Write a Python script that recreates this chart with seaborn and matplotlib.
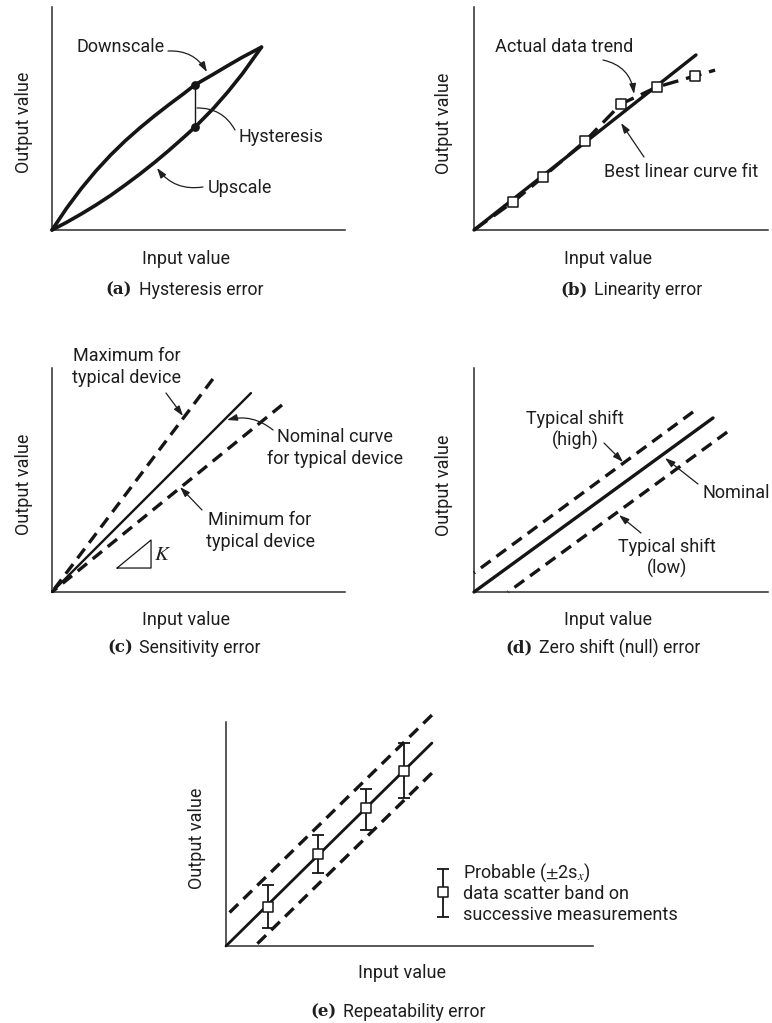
import numpy as np
import pandas as pd
import matplotlib
matplotlib.use("Agg")
import matplotlib.pyplot as plt
from matplotlib.patches import FancyArrowPatch
import seaborn as sns

# ---------------------------------------------------------------- data
# (a) hysteresis loop (upscale / downscale branches)
hyst_x = [0, 0.5, 1.0, 1.5, 2.0, 2.5, 3.0, 3.5, 4.0, 4.5, 4.87, 5.5, 6.0, 6.5, 7.15]
down_y = [0, 0.98, 1.86, 2.65, 3.36, 4.0, 4.58, 5.12, 5.63, 6.12, 6.50, 6.98, 7.37, 7.75, 8.2]
up_y = [0, 0.345, 0.72, 1.12, 1.55, 2.02, 2.51, 3.03, 3.58, 4.16, 4.60, 5.44, 6.19, 7.01, 8.2]
hyst_at = 10  # index where the hysteresis gap is marked

# (b) linearity: measured points and best straight-line fit
lin_x = [1.33, 2.35, 3.78, 5.00, 6.22, 7.52]
lin_y = [1.26, 2.38, 3.99, 5.65, 6.41, 6.91]
trend_x = [0] + lin_x + [8.20]
trend_y = [0] + lin_y + [7.17]
fit_x = [0, 7.55]
fit_y = [0, 7.85]

# (c) sensitivity: end points of lines through the origin
sens_max = ([0, 5.49], [0, 9.51])
sens_nom = ([0, 6.79], [0, 8.88])
sens_min = ([0, 7.85], [0, 8.35])
slope_tri_x = [2.22, 3.38, 3.38, 2.22]
slope_tri_y = [1.07, 1.07, 2.32, 1.07]

# (d) zero shift
zero_nom = ([0, 8.13], [0, 7.77])
zero_high = ([0, 7.45], [0.85, 8.04])
zero_low = ([1.16, 8.61], [0, 7.14])

# (e) repeatability
rep_nom = ([0, 5.61], [0, 9.06])
rep_high = ([0, 5.61], [1.34, 10.31])
rep_low = ([0.79, 5.61], [0, 7.72])
rep_x = [1.14, 2.51, 3.81, 4.85]
rep_y = [1.74, 4.11, 6.16, 7.81]
rep_lo = [0.80, 3.26, 5.18, 6.61]
rep_hi = [2.72, 4.96, 7.01, 9.06]
key_x = [5.91]
key_y = [2.41]
key_lo = [1.29]
key_hi = [3.44]

# ---------------------------------------------------------------- style
sns.set_theme(style="white")
plt.rcParams["font.family"] = ["Roboto", "DejaVu Sans"]
plt.rcParams["mathtext.fontset"] = "stix"

W, H = 772, 1023
fig = plt.figure(figsize=(W / 100, H / 100), dpi=100)
fig.patch.set_facecolor("white")

INK = "#151515"
TXT = "#1e1e1e"
FS = 13
CAP_FS = 12.7
DASH = (3.6, 2.2)


def make_axes(l, r, t, b):
    ax = fig.add_axes([l / W, 1 - b / H, (r - l) / W, (b - t) / H])
    ax.set_xlim(0, 10)
    ax.set_ylim(0, 10)
    for s in ("top", "right"):
        ax.spines[s].set_visible(False)
    for s in ("left", "bottom"):
        ax.spines[s].set_linewidth(1.1)
        ax.spines[s].set_color("#2a2a2a")
    ax.set_xticks([])
    ax.set_yticks([])
    ax.set_xlabel("")
    ax.set_ylabel("")
    ax.patch.set_alpha(0)
    return ax


def line(ax, xs, ys, lw=2.3, dashes=None, z=3):
    xs, ys = list(xs), list(ys)
    kw = dict(color=INK, lw=lw, sort=False, estimator=None, ax=ax,
              clip_on=False, zorder=z)
    if dashes is not None:
        # start the dash pattern at the far end so it finishes on a full dash
        xs, ys = xs[::-1], ys[::-1]
        kw["linestyle"] = (0, dashes)
    sns.lineplot(x=xs, y=ys, **kw)


def ftext(x, y, s, ha="left", va="center", size=FS, **kw):
    fig.text(x / W, 1 - y / H, s, ha=ha, va=va, fontsize=size, color=TXT, **kw)


def arrow(x0, y0, x1, y1, rad=0.0, head=True):
    style = "-|>,head_length=0.55,head_width=0.18" if head else "-"
    p = FancyArrowPatch((x0 / W, 1 - y0 / H), (x1 / W, 1 - y1 / H),
                        transform=fig.transFigure, arrowstyle=style,
                        connectionstyle=f"arc3,rad={rad}", lw=0.9,
                        color=TXT, mutation_scale=11, shrinkA=0, shrinkB=0)
    fig.add_artist(p)


def axis_labels(xc, yx, yc, yy):
    ftext(xc, yx, "Input value", ha="center")
    ftext(yy, yc, "Output value", ha="center", rotation=90)


def caption(x_right, x_text, y, tag, text):
    fig.text(x_right / W, 1 - y / H, tag, ha="right", va="center",
             fontsize=CAP_FS - 0.7, fontweight="bold", family="DejaVu Serif",
             color=TXT)
    ftext(x_text, y, text, size=CAP_FS)


# ---------------------------------------------------------------- (a)
ax = make_axes(52, 345, 7, 230)
line(ax, hyst_x, down_y, lw=2.6)
line(ax, hyst_x, up_y, lw=2.6)
gap_x = [hyst_x[hyst_at], hyst_x[hyst_at]]
gap_y = [up_y[hyst_at], down_y[hyst_at]]
line(ax, gap_x, gap_y, lw=1.0)
sns.scatterplot(x=gap_x, y=gap_y, ax=ax, color=INK, s=40, linewidth=0, zorder=5)
ftext(76, 47, "Downscale")
arrow(168, 51, 207, 72, rad=-0.3)
ftext(238, 137, "Hysteresis")
arrow(235, 130, 197, 108, rad=0.3, head=False)
ftext(208, 188, "Upscale")
arrow(203, 187, 157, 168, rad=-0.3)
axis_labels(186, 259, 122, 24)
caption(132, 139, 290, "(a)", "Hysteresis error")

# ---------------------------------------------------------------- (b)
ax = make_axes(474, 768, 7, 230)
line(ax, fit_x, fit_y, lw=2.4)
sns.lineplot(x=trend_x, y=trend_y, ax=ax, color=INK, lw=2.4, sort=False,
             estimator=None, clip_on=False, zorder=3, linestyle=(0, (4.8, 2.4)))
sns.scatterplot(x=lin_x, y=lin_y, ax=ax, marker="s", s=50, color="white",
                edgecolor=INK, linewidth=1.1, zorder=6, clip_on=False)
ftext(495, 47, "Actual data trend")
arrow(603, 60, 634, 94, rad=-0.35)
ftext(604, 172, "Best linear curve fit")
arrow(644, 157, 621, 123)
axis_labels(608, 259, 123, 444)
caption(588, 594, 290, "(b)", "Linearity error")

# ---------------------------------------------------------------- (c)
ax = make_axes(52, 345, 368, 592)
line(ax, *sens_max, lw=2.4, dashes=DASH)
line(ax, *sens_nom, lw=1.7)
line(ax, *sens_min, lw=2.4, dashes=DASH)
line(ax, slope_tri_x, slope_tri_y, lw=0.9)
ftext(163, 554, "$K$", ha="center", size=15)
ftext(127, 367, "Maximum for\ntypical device", ha="center", linespacing=1.25)
arrow(166, 393, 183, 416)
ftext(335, 448, "Nominal curve\nfor typical device", ha="center", linespacing=1.25)
arrow(273, 430, 227, 420, rad=0.25)
ftext(260, 531, "Minimum for\ntypical device", ha="center", linespacing=1.25)
arrow(202, 510, 180, 487)
axis_labels(186, 620, 484, 24)
caption(133, 139, 648, "(c)", "Sensitivity error")

# ---------------------------------------------------------------- (d)
ax = make_axes(474, 768, 368, 592)
line(ax, *zero_high, lw=2.4, dashes=DASH)
line(ax, *zero_nom, lw=2.4)
line(ax, *zero_low, lw=2.4, dashes=DASH)
ftext(575, 430, "Typical shift\n(high)", ha="center", linespacing=1.25)
arrow(604, 443, 623, 462)
ftext(702, 493, "Nominal")
arrow(698, 484, 665, 458)
ftext(667, 558, "Typical shift\n(low)", ha="center", linespacing=1.25)
arrow(641, 533, 619, 515)
axis_labels(608, 620, 485, 444)
caption(533, 539, 648, "(d)", "Zero shift (null) error")

# ---------------------------------------------------------------- (e)
ax = make_axes(226, 593, 722, 946)
line(ax, *rep_high, lw=2.4, dashes=DASH)
line(ax, *rep_nom, lw=2.0)
line(ax, *rep_low, lw=2.4, dashes=DASH)
for xs, ys, lo, hi in ((rep_x, rep_y, rep_lo, rep_hi), (key_x, key_y, key_lo, key_hi)):
    ys_a, lo_a, hi_a = np.array(ys), np.array(lo), np.array(hi)
    ax.errorbar(xs, ys, yerr=[ys_a - lo_a, hi_a - ys_a], fmt="none",
                ecolor=INK, elinewidth=1.3, capsize=4, capthick=1.3, zorder=4)
    sns.scatterplot(x=xs, y=ys, ax=ax, marker="s", s=50, color="white",
                    edgecolor=INK, linewidth=1.1, zorder=6, clip_on=False)
ftext(463, 873, r"Probable ($\pm$2s$_{x}$)")
ftext(463, 894, "data scatter band on")
ftext(463, 915, "successive measurements")
axis_labels(402, 973, 838, 197)
caption(337, 343, 1012, "(e)", "Repeatability error")

fig.savefig("out.png", dpi=100, facecolor="white")
